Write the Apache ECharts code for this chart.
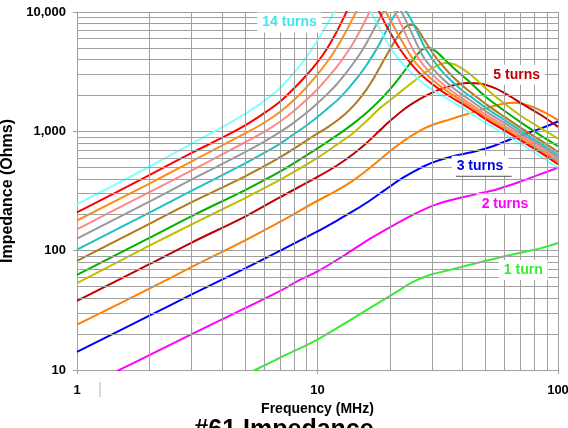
<!DOCTYPE html>
<html><head><meta charset="utf-8">
<script src="https://cdn.jsdelivr.net/npm/echarts@6/dist/echarts.min.js"></script>
<style>html,body{margin:0;padding:0;background:#fff;}#c{width:568px;height:428px;}</style>
</head><body><div id="c"></div>
<script>
// ---- data ----
const xTicks = [1, 10, 100];
const yTicks = [10, 100, 1000, 10000];
const xMinor = [2,3,4,5,6,7,8,9,20,30,40,50,60,70,80,90];
const yMinor = [20,30,40,50,60,70,80,90,200,300,400,500,600,700,800,900,2000,3000,4000,5000,6000,7000,8000,9000];

const turns1 = [[5,9.1],[5.5,10],[7,12.7],[10,18],[14,27],[18.8,38.7],[22,47],[24,52.5],[26,57],[28,60.5],[30,63.5],[35.6,69],[40.3,73.7],[55.5,86.5],[70,96],[85,105],[100,116]];
const turns2 = [[1,6.6],[1.53,10.2],[2,13.3],[3,20],[5,33],[7,46],[8.44,56.9],[10,67],[13,92],[16,121],[20,157],[24.2,194],[27.5,220],[31,243],[35,262],[45,295],[55.5,326],[70,380],[85,440],[100,495]];
const turns3 = [[1,14.2],[2,28.5],[3,43],[5,71],[7,100],[10,145],[12,178],[14,213],[16,252],[18,297],[20,345],[22.5,405],[25,458],[28,515],[31,560],[35,603],[40,643],[45,678],[50,718],[55,765],[60,820],[70,925],[85,1060],[100,1210]];
const turns4 = [[1,24],[2,48],[3,73],[5,122],[7,175],[10,262],[12,318],[14,385],[16,470],[18,570],[20,680],[23,840],[26.6,1010],[30,1130],[35.6,1260],[41,1378],[50,1560],[59,1700],[66,1740],[76,1640],[88,1440],[100,1240]];
const turns5 = [[1,37.9],[2,77],[3,117],[5,193],[7,281],[10,415],[12,515],[14,640],[16,800],[18,1000],[20,1220],[23,1540],[26.6,1860],[30,2110],[35,2370],[42,2540],[48,2500],[55,2290],[62,2010],[70,1730],[85,1370],[100,1090]];
const turns6 = [[1,53.4],[2,110],[3,166],[5,276],[7,393],[10,600],[12,770],[14,960],[16,1220],[18,1540],[20,1820],[22,2120],[25,2600],[28,3100],[31,3500],[34,3740],[37,3650],[40,3350],[45,2800],[50,2300],[60,1700],[70,1350],[85,1060],[100,870]];
const turns7 = [[1,62.6],[2,128],[3,195],[5,322],[7,461],[10,720],[12,920],[14,1150],[16,1430],[18,1790],[20,2250],[22,2850],[24,3600],[26,4400],[27.5,4900],[29,5000],[31,4700],[34,3950],[38,3200],[42,2700],[50,1950],[60,1480],[70,1190],[85,920],[100,750]];
const turns8 = [[1,82],[2,168],[3,255],[5,420],[7,607],[10,960],[11,1080],[12,1220],[13,1390],[14,1610],[15,1890],[16,2250],[17,2720],[18,3330],[19,4050],[20,4850],[21,5750],[22,6600],[23,7350],[24,7800],[25,7780],[26,7250],[28,5700],[30,4600],[32,3850],[36,2950],[40,2420],[45,2000],[50,1700],[60,1320],[70,1070],[85,835],[100,670]];
const turns9 = [[1,102],[2,208],[3,318],[5,540],[6,660],[7,790],[8,950],[9,1120],[10,1320],[11,1550],[12,1800],[13,2120],[14,2520],[15,3000],[16,3600],[17,4350],[18,5300],[19,6500],[20,8000],[21,9500],[22,10500],[23,10400],[24,9300],[26,6800],[28,5000],[32,3400],[36,2650],[40,2200],[45,1850],[50,1580],[60,1240],[70,1010],[85,790],[100,632]];
const turns10 = [[1,126],[2,258],[3,395],[5,670],[6,820],[7,990],[8,1190],[9,1430],[10,1720],[11,2060],[12,2470],[13,3000],[14,3650],[15,4450],[16,5500],[17,6900],[18,8600],[19,10400],[20,11700],[21,11800],[22,10600],[24,7500],[26,5300],[28,4000],[32,2950],[36,2380],[40,2030],[45,1720],[50,1475],[60,1170],[70,960],[85,755],[100,605]];
const turns11 = [[1,151],[2,310],[3,470],[5,810],[6,990],[7,1210],[8,1490],[9,1840],[10,2250],[11,2800],[12,3450],[13,4300],[14,5400],[15,6900],[16,8900],[17,11300],[18,13000],[19,13200],[20,12000],[21,10000],[22,8300],[25,4800],[28,3450],[32,2650],[36,2190],[40,1890],[45,1610],[50,1385],[60,1110],[70,915],[85,720],[100,578]];
const turns12 = [[1,179],[2,365],[3,560],[5,960],[6,1180],[7,1460],[8,1840],[9,2350],[10,3000],[11,3850],[12,5000],[13,6600],[14,8800],[15,11300],[16,13300],[17,13800],[18,12500],[19,10500],[20,8700],[22,6100],[25,4000],[28,3080],[32,2440],[36,2050],[40,1790],[45,1530],[50,1320],[60,1060],[70,875],[85,690],[100,555]];
const turns13 = [[1,209],[2,430],[3,660],[4,880],[5,1120],[6,1420],[7,1780],[8,2300],[9,2950],[10,3800],[11,5000],[12,6800],[13,9400],[14,12500],[15,14500],[16,14500],[17,12500],[18,10200],[19,8200],[20,6800],[22,4900],[25,3500],[28,2780],[32,2260],[36,1930],[40,1700],[45,1460],[50,1265],[60,1015],[70,840],[85,660],[100,530]];
const turns14 = [[1,245],[2,505],[3,790],[4,1080],[5,1400],[6,1790],[7,2320],[8,3100],[9,4200],[10,5800],[11,8000],[12,10800],[13,13200],[14,14200],[15,13500],[16,11500],[17,9300],[18,7500],[19,6100],[20,5100],[22,3900],[25,3000],[28,2450],[32,2060],[36,1790],[40,1580],[45,1350],[50,1180],[60,950],[70,785],[85,615],[100,490]];

const seriesData = [turns1,turns2,turns3,turns4,turns5,turns6,turns7,turns8,turns9,turns10,turns11,turns12,turns13,turns14];
const seriesNames = ['1 turn','2 turns','3 turns','4 turns','5 turns','6 turns','7 turns','8 turns','9 turns','10 turns','11 turns','12 turns','13 turns','14 turns'];
const seriesColors = ['#33EE33','#FF00FF','#0000FF','#FF8000','#C00000','#BFBF00','#00B000','#B07818','#20C0C0','#999999','#FF8888','#FF8C1A','#FF0000','#80FFFF'];

const labelTexts = ['14 turns','5 turns','3 turns','2 turns','1 turn'];
const labelAt = [[7.65,8150],[67.3,2985],[47.4,514],[60.2,247],[71.7,69]];
const labelColors = ['#40E6EE','#C00000','#0000E0','#FF00FF','#33EE33'];

const titleText = '#61 Impedance';
const xName = 'Frequency (MHz)';
const yName = 'Impedance (Ohms)';

// ---- chart ----
const chart = echarts.init(document.getElementById('c'), null, {renderer:'canvas'});
const gridColor = '#a0a0a0';
const fontFam = 'Liberation Sans, Arial, sans-serif';

const series = seriesData.map((d,i)=>({
  name: seriesNames[i], type:'line', data:d, showSymbol:false, symbol:'none',
  smooth:0.3, clip:true, silent:true, z:3,
  lineStyle:{color:seriesColors[i], width:2}
}));
series.unshift({
  type:'line', data:[[1,10]], symbol:'none', silent:true, z:1,
  lineStyle:{opacity:0},
  markLine:{
    silent:true, symbol:['none','none'], animation:false,
    label:{show:false},
    lineStyle:{color:gridColor, width:1, type:'solid'},
    emphasis:{disabled:true},
    data: xMinor.map(v=>({xAxis:v})).concat(yMinor.map(v=>({yAxis:v})))
  }
});

chart.setOption({
  animation:false,
  backgroundColor:'#fff',
  title:{text:titleText, left:'center', top:413,
    textStyle:{fontFamily:fontFam, fontSize:25, fontWeight:'bold', color:'#000'}},
  grid:{left:77, right:10, top:12, bottom:58, containLabel:false, outerBoundsMode:'none'},
  xAxis:{type:'log', logBase:10, min:1, max:100,
    name:xName, nameLocation:'middle', nameGap:32,
    nameTextStyle:{fontFamily:fontFam, fontSize:14, fontWeight:'bold', color:'#000'},
    axisLine:{show:true, lineStyle:{color:gridColor}},
    axisTick:{show:true, length:4, lineStyle:{color:gridColor}},
    axisLabel:{margin:14, fontFamily:fontFam, fontSize:13, fontWeight:'bold', color:'#000'},
    splitLine:{show:true, lineStyle:{color:gridColor, width:1}}
  },
  yAxis:{type:'log', logBase:10, min:10, max:10000,
    name:yName, nameLocation:'middle', nameGap:61,
    nameTextStyle:{fontFamily:fontFam, fontSize:16, fontWeight:'bold', color:'#000'},
    axisLine:{show:true, lineStyle:{color:gridColor}},
    axisTick:{show:true, length:4, lineStyle:{color:gridColor}},
    axisLabel:{margin:11, fontFamily:fontFam, fontSize:13, fontWeight:'bold', color:'#000',
      formatter:v=>Number(v).toLocaleString('en-US')},
    splitLine:{show:true, lineStyle:{color:gridColor, width:1}}
  },
  series: series
});

const graphics = labelTexts.map((t,i)=>{
  const p = chart.convertToPixel({gridIndex:0}, labelAt[i]);
  return {type:'text', x:p[0], y:p[1], z:100, silent:true,
    style:{text:t, fill:labelColors[i], font:'bold 14px '+fontFam,
      align:'center', verticalAlign:'middle',
      backgroundColor:'#fff', padding:[3,5]}};
});
// underline segment beneath "3 turns" label
const u1 = chart.convertToPixel({gridIndex:0}, [37.6, 420]);
const u2 = chart.convertToPixel({gridIndex:0}, [64.2, 420]);
graphics.push({type:'line', z:100, silent:true, shape:{x1:u1[0],y1:u1[1],x2:u2[0],y2:u2[1]}, style:{stroke:'#555', lineWidth:1}});
// stray short tick below the x axis near "1"
const s1 = chart.convertToPixel({gridIndex:0}, [1.246, 10]);
graphics.push({type:'line', z:100, silent:true, shape:{x1:s1[0],y1:s1[1]+12,x2:s1[0],y2:s1[1]+27}, style:{stroke:'#b0b0b0', lineWidth:1}});
chart.setOption({graphic: graphics});
</script>
</body></html>
